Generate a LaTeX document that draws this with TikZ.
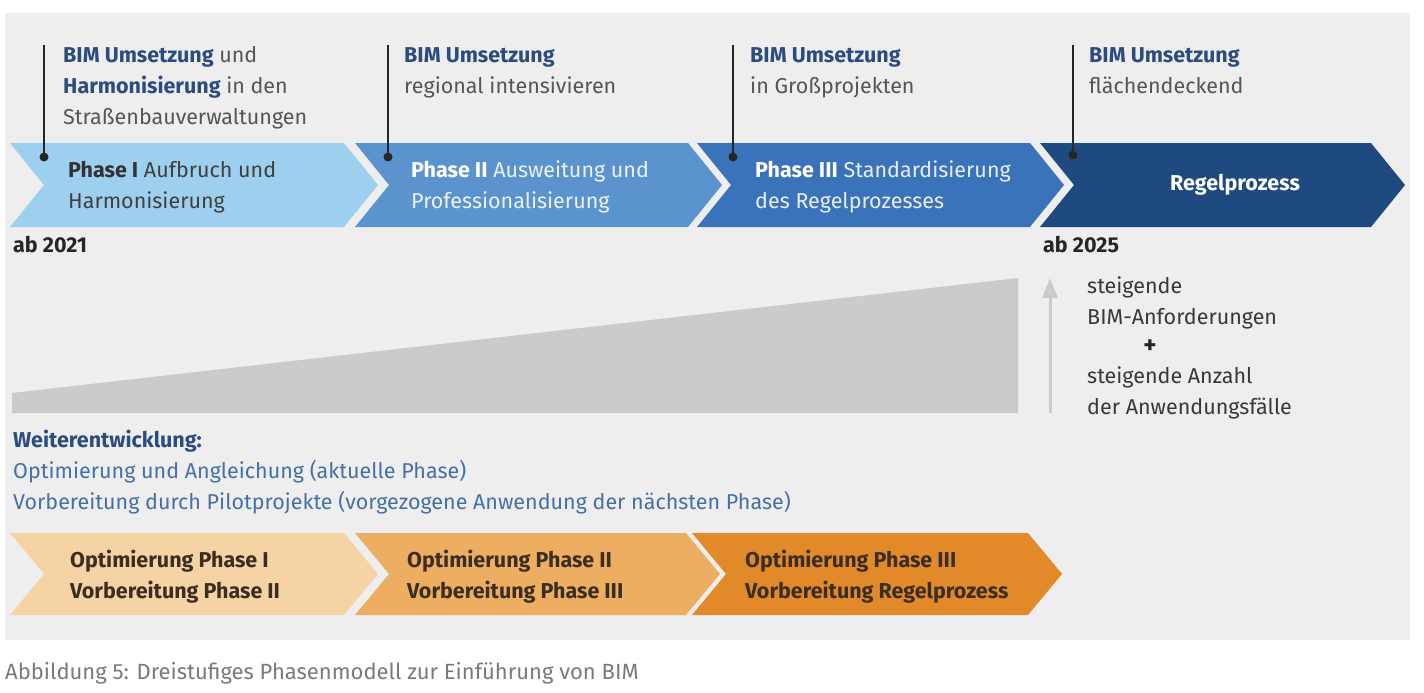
\documentclass[tikz,border=0pt]{standalone}
\usepackage{fontspec}
\setmainfont{Fira Sans}
\usetikzlibrary{arrows.meta}
\definecolor{panel}{HTML}{EFEEEF}
\definecolor{dblue}{HTML}{2B4C7E}
\definecolor{rgrey}{HTML}{555555}
\definecolor{lblue}{HTML}{4470A8}
\definecolor{cA}{HTML}{9DCFEF}
\definecolor{cB}{HTML}{5B93CF}
\definecolor{cC}{HTML}{3B73BA}
\definecolor{cD}{HTML}{1F4A80}
\definecolor{oA}{HTML}{F6D3A4}
\definecolor{oB}{HTML}{EDAE62}
\definecolor{oC}{HTML}{E2892A}
\definecolor{otext}{HTML}{3B2E20}
\definecolor{wedge}{HTML}{C9CBCD}
\definecolor{captc}{HTML}{7A7A7A}
\newcommand{\chevshape}[5]{% x1, x2(tip), ytop, ybot, color
  \fill[#5] (#1,#3) -- ({#2-34},#3) -- (#2,{(#3+#4)/2}) -- ({#2-34},#4) -- (#1,#4) -- ({#1+34},{(#3+#4)/2}) -- cycle;}
\newcommand{\fsz}{\fontsize{21.5}{31}\selectfont}
\begin{document}
\begin{tikzpicture}[x=1pt,y=-1pt,
  lbl/.style={anchor=base west,inner sep=0pt,font=\fsz,align=left},
  tick/.style={line width=1.6pt,black!85},
  dotm/.style={fill=black!85}]
\useasboundingbox (0,0) rectangle (1424,693);
\fill[white] (0,0) rectangle (1424,693);
\fill[panel] (5,13) rectangle (1410,640);
% top chevrons
\chevshape{10}{378}{143}{227}{cA}
\chevshape{355}{722}{143}{227}{cB}
\chevshape{697}{1064}{143}{227}{cC}
\chevshape{1040}{1405}{143}{227}{cD}
% tick lines
\coordinate (t1a) at (44,45); \coordinate (t1b) at (44,157);
\coordinate (t2a) at (388,45); \coordinate (t2b) at (388,157);
\coordinate (t3a) at (733,45); \coordinate (t3b) at (733,157);
\coordinate (t4a) at (1073,45); \coordinate (t4b) at (1073,155);
\foreach \i in {1,2,3,4}{
  \draw[tick] (t\i a) -- (t\i b);
  \fill[dotm] (t\i b) circle (4.5);
}
% top labels (anchor = baseline of last line)
\node[lbl] (l1) at (63,124) {\textcolor{dblue}{\bfseries BIM Umsetzung} \textcolor{rgrey}{und}\\
  \textcolor{dblue}{\bfseries Harmonisierung} \textcolor{rgrey}{in den}\\
  \textcolor{rgrey}{Straßenbauverwaltungen}};
\node[lbl] (l2) at (404,93) {\textcolor{dblue}{\bfseries BIM Umsetzung}\\
  \textcolor{rgrey}{regional intensivieren}};
\node[lbl] (l3) at (750,93) {\textcolor{dblue}{\bfseries BIM Umsetzung}\\
  \textcolor{rgrey}{in Großprojekten}};
\node[lbl] (l4) at (1089,93) {\textcolor{dblue}{\bfseries BIM Umsetzung}\\
  \textcolor{rgrey}{flächendeckend}};
% phase texts
\node[lbl] (p1) at (68,208) {\textcolor{black!80}{\bfseries Phase I} \textcolor{black!75}{Aufbruch und}\\
  \textcolor{black!75}{Harmonisierung}};
\node[lbl] (p2) at (411,208) {\textcolor{white}{\bfseries Phase II} \textcolor{white!88!cB}{Ausweitung und}\\
  \textcolor{white!88!cB}{Professionalisierung}};
\node[lbl] (p3) at (755,208) {\textcolor{white}{\bfseries Phase III} \textcolor{white!88!cC}{Standardisierung}\\
  \textcolor{white!88!cC}{des Regelprozesses}};
\node[anchor=center,inner sep=0pt,font=\fsz\bfseries,text=white] (p4) at (1235,185) {Regelprozess};
% years
\node[lbl,font=\fsz\bfseries,text=black!85] (y1) at (13,252) {ab 2021};
\node[lbl,font=\fsz\bfseries,text=black!85] (y2) at (1043,252) {ab 2025};
% wedge
\fill[wedge] (12,393) -- (1018,278) -- (1018,413) -- (12,413) -- cycle;
% arrow
\coordinate (ar0) at (1050,413);
\coordinate (ar1) at (1050,278);
\draw[wedge,line width=3pt,-{Triangle[width=15pt,length=20pt]}] (ar0) -- (ar1);
% right text
\node[lbl,text=black!78] (r1) at (1087,324) {steigende\\BIM-Anforderungen};
\node[anchor=center,inner sep=0pt,font=\fontsize{25}{25}\selectfont\bfseries,text=black!85] (plus) at (1150,347) {+};
\node[lbl,text=black!78] (r2) at (1087,414) {steigende Anzahl\\der Anwendungsfälle};
% Weiterentwicklung
\node[lbl] (w1) at (13,509) {\textcolor{dblue}{\bfseries Weiterentwicklung:}\\
  \textcolor{lblue}{Optimierung und Angleichung (aktuelle Phase)}\\
  \textcolor{lblue}{Vorbereitung durch Pilotprojekte (vorgezogene Anwendung der nächsten Phase)}};
% bottom chevrons
\chevshape{10}{378}{533}{615}{oA}
\chevshape{355}{720}{533}{615}{oB}
\chevshape{692}{1062}{533}{615}{oC}
\node[lbl,font=\fsz\bfseries,text=otext] (b1) at (70,598) {Optimierung Phase I\\Vorbereitung Phase II};
\node[lbl,font=\fsz\bfseries,text=otext] (b2) at (407,598) {Optimierung Phase II\\Vorbereitung Phase III};
\node[lbl,font=\fsz\bfseries,text=otext] (b3) at (745,598) {Optimierung Phase III\\Vorbereitung Regelprozess};
% caption
\node[lbl,font=\fontsize{22}{23}\selectfont,text=captc] (cap) at (5,679) {Abbildung 5: Dreistufiges Phasenmodell zur Einführung von BIM};
\end{tikzpicture}
\end{document}
